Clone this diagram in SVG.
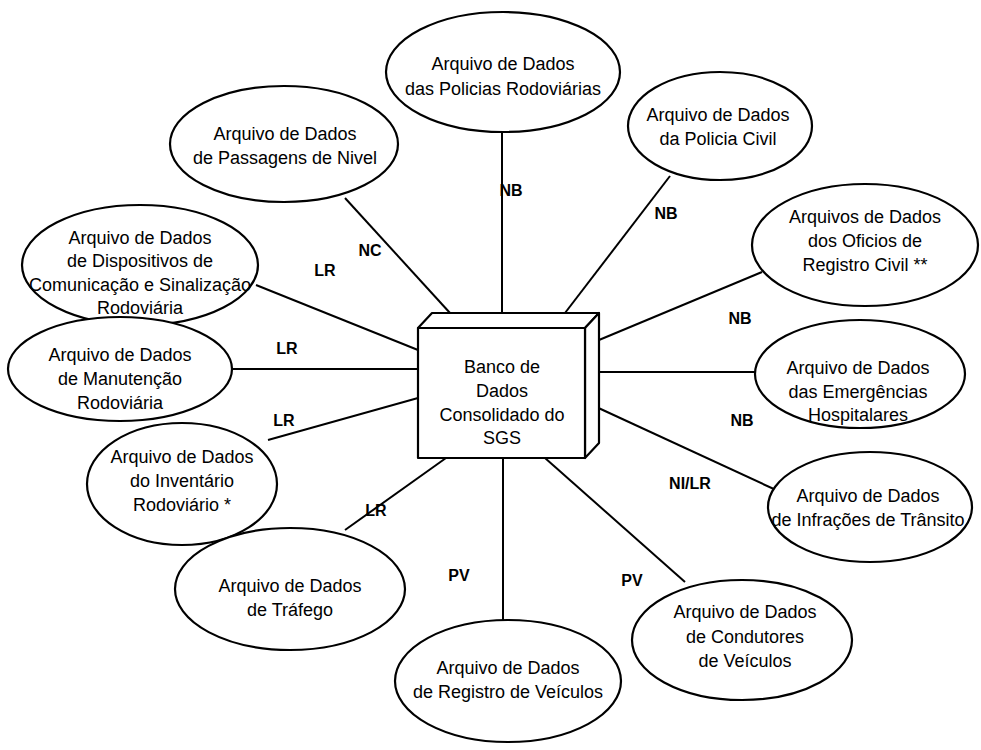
<svg xmlns="http://www.w3.org/2000/svg" width="981" height="750" viewBox="0 0 981 750">
  <style>
    .node ellipse { fill: #ffffff; stroke: #000000; stroke-width: 2.2; }
    .node text { font-family: "Liberation Sans", Arial, sans-serif; font-size: 18px; fill: #000000; text-anchor: middle; }
    .edges line { stroke: #000000; stroke-width: 2; }
    .lbl { font-family: "Liberation Sans", Arial, sans-serif; font-size: 16px; font-weight: bold; fill: #000000; text-anchor: middle; }
    .box { fill: #ffffff; stroke: #000000; stroke-width: 2.2; stroke-linejoin: round; }
    .boxtext { font-family: "Liberation Sans", Arial, sans-serif; font-size: 18px; fill: #000000; text-anchor: middle; }
  </style>

  <!-- connectors from each data file to the central database -->
  <g id="connectors" class="edges">
    <line x1="502" y1="133" x2="502" y2="313"/>
    <line x1="345" y1="198" x2="450" y2="313"/>
    <line x1="670" y1="176" x2="565" y2="313"/>
    <line x1="256" y1="285" x2="418" y2="350"/>
    <line x1="762" y1="272" x2="599" y2="340"/>
    <line x1="232" y1="369" x2="418" y2="369"/>
    <line x1="599" y1="372" x2="756" y2="372"/>
    <line x1="268" y1="440" x2="418" y2="398"/>
    <line x1="592" y1="405" x2="776" y2="490"/>
    <line x1="345" y1="530" x2="446" y2="458"/>
    <line x1="503" y1="458" x2="503" y2="620"/>
    <line x1="545" y1="458" x2="685" y2="582"/>
  </g>

  <!-- connector labels -->
  <g id="edge-labels">
    <text class="lbl" x="511" y="196">NB</text>
    <text class="lbl" x="370" y="256">NC</text>
    <text class="lbl" x="666" y="219">NB</text>
    <text class="lbl" x="325" y="276">LR</text>
    <text class="lbl" x="740" y="324">NB</text>
    <text class="lbl" x="287" y="354">LR</text>
    <text class="lbl" x="742" y="426">NB</text>
    <text class="lbl" x="284" y="426">LR</text>
    <text class="lbl" x="690" y="489">NI/LR</text>
    <text class="lbl" x="376" y="516">LR</text>
    <text class="lbl" x="459" y="581">PV</text>
    <text class="lbl" x="632" y="586">PV</text>
  </g>

  <!-- central database drawn as a 3D block -->
  <g id="banco-sgs">
    <polygon class="box" points="418,328 432,313 599,313 585,328"/>
    <polygon class="box" points="585,328 599,313 599,443 585,458"/>
    <rect class="box" x="418" y="328" width="167" height="130"/>
    <text class="boxtext" x="502" y="373">Banco de</text>
    <text class="boxtext" x="502" y="397">Dados</text>
    <text class="boxtext" x="502" y="421">Consolidado do</text>
    <text class="boxtext" x="502" y="444">SGS</text>
  </g>

  <g id="policias-rodoviarias" class="node">
    <ellipse cx="503" cy="72" rx="117" ry="60"/>
    <text x="503" y="70">Arquivo de Dados</text>
    <text x="503" y="95">das Policias Rodoviárias</text>
  </g>

  <g id="passagens-nivel" class="node">
    <ellipse cx="284" cy="144" rx="114" ry="58"/>
    <text x="285" y="140">Arquivo de Dados</text>
    <text x="285" y="164">de Passagens de Nivel</text>
  </g>

  <g id="policia-civil" class="node">
    <ellipse cx="720" cy="126" rx="92" ry="54"/>
    <text x="718" y="121">Arquivo de Dados</text>
    <text x="718" y="145">da Policia Civil</text>
  </g>

  <g id="dispositivos" class="node">
    <ellipse cx="140" cy="265" rx="118" ry="60"/>
    <text x="140" y="244">Arquivo de Dados</text>
    <text x="140" y="267">de Dispositivos de</text>
    <text x="140" y="291">Comunicação e Sinalização</text>
    <text x="140" y="314">Rodoviária</text>
  </g>

  <g id="registro-civil" class="node">
    <ellipse cx="865" cy="245" rx="113" ry="61"/>
    <text x="865" y="223">Arquivos de Dados</text>
    <text x="865" y="247">dos Oficios de</text>
    <text x="865" y="271">Registro Civil **</text>
  </g>

  <g id="manutencao" class="node">
    <ellipse cx="120" cy="369" rx="112" ry="52"/>
    <text x="120" y="361">Arquivo de Dados</text>
    <text x="120" y="385">de Manutenção</text>
    <text x="120" y="409">Rodoviária</text>
  </g>

  <g id="emergencias" class="node">
    <ellipse cx="860" cy="374" rx="105" ry="54"/>
    <text x="858" y="374">Arquivo de Dados</text>
    <text x="858" y="398">das Emergências</text>
    <text x="858" y="421">Hospitalares</text>
  </g>

  <g id="inventario" class="node">
    <ellipse cx="182" cy="484" rx="95" ry="61"/>
    <text x="182" y="463">Arquivo de Dados</text>
    <text x="182" y="487">do Inventário</text>
    <text x="182" y="511">Rodoviário *</text>
  </g>

  <g id="infracoes" class="node">
    <ellipse cx="870" cy="507" rx="102" ry="55"/>
    <text x="868" y="502">Arquivo de Dados</text>
    <text x="868" y="526">de Infrações de Trânsito</text>
  </g>

  <g id="trafego" class="node">
    <ellipse cx="290" cy="589" rx="115" ry="61"/>
    <text x="290" y="592">Arquivo de Dados</text>
    <text x="290" y="616">de Tráfego</text>
  </g>

  <g id="registro-veiculos" class="node">
    <ellipse cx="508" cy="681" rx="113" ry="61"/>
    <text x="508" y="674">Arquivo de Dados</text>
    <text x="508" y="698">de Registro de Veículos</text>
  </g>

  <g id="condutores" class="node">
    <ellipse cx="742" cy="640" rx="110" ry="60"/>
    <text x="745" y="618">Arquivo de Dados</text>
    <text x="745" y="643">de Condutores</text>
    <text x="745" y="667">de Veículos</text>
  </g>
</svg>
